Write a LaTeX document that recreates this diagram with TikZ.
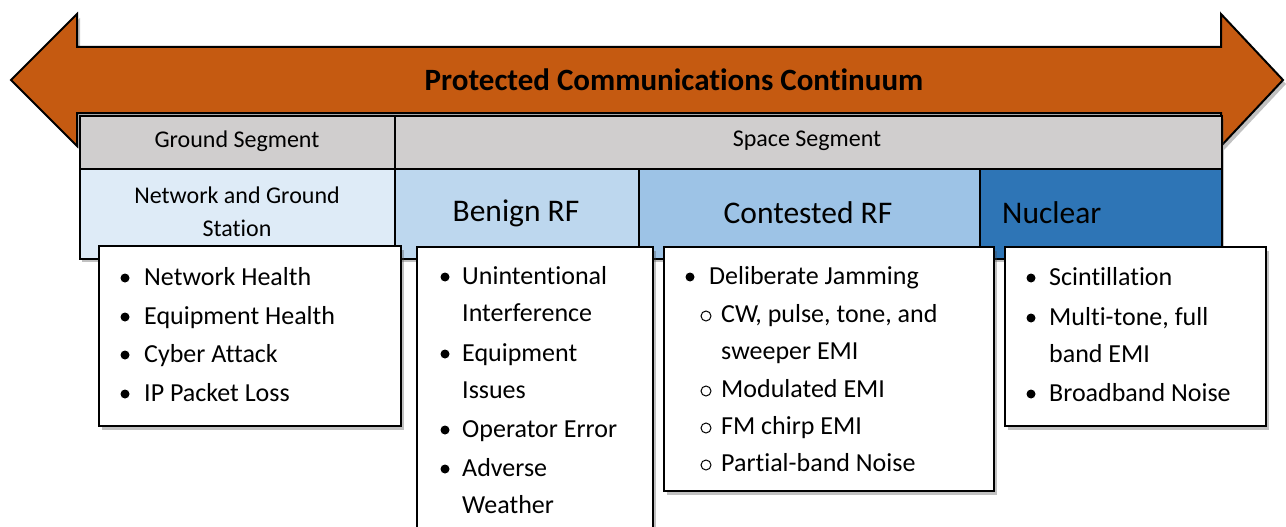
\documentclass[tikz,border=0pt]{standalone}
\usepackage{fontspec}
\setmainfont[Ligatures={NoCommon,NoRare}]{Carlito}
\usetikzlibrary{shadows}
\definecolor{arrowor}{HTML}{C55A11}
\definecolor{seggray}{HTML}{D0CECE}
\definecolor{cellA}{HTML}{DEEBF7}
\definecolor{cellB}{HTML}{BDD7EE}
\definecolor{cellC}{HTML}{9DC3E6}
\definecolor{cellD}{HTML}{2E75B6}
\tikzset{
  shd/.style={drop shadow={shadow xshift=3pt, shadow yshift=-4pt, opacity=0.35, fill=black!70}},
  cell/.style={draw=black, line width=2pt, inner sep=0pt, anchor=north west},
  listbox/.style={draw=black, line width=2pt, fill=white, inner sep=0pt, anchor=north west, shd},
  hdr/.style={font=\fontsize{24}{33}\selectfont, align=center, inner sep=0pt},
  big/.style={font=\fontsize{31.5}{38}\selectfont, inner sep=0pt},
  item/.style={font=\fontsize{26}{38}\selectfont, anchor=base west, inner sep=0pt},
  dot/.style={circle, fill=black, inner sep=0pt, minimum size=9pt},
  ring/.style={circle, draw=black, line width=1pt, inner sep=0pt, minimum size=10pt}
}
\begin{document}
\begin{tikzpicture}[x=1pt, y=-1pt]
\useasboundingbox (0,0) rectangle (1286,527);
\clip (0,0) rectangle (1286,527);
% continuum arrow
\path[fill=arrowor, draw=black, line width=2pt, line join=miter, shd]
  (77,47) -- (1221,47) -- (1221,14) -- (1283,80) -- (1221,146) -- (1221,113)
  -- (77,113) -- (77,146) -- (11,80) -- (77,14) -- cycle;
\node[font=\bfseries\fontsize{31}{38}\selectfont, inner sep=0pt] (title) at (674,80) {Protected Communications Continuum};
% table
\path[shd, fill=white] (79,115) rectangle (1221,258);
\node[cell, fill=seggray, minimum width=315pt, minimum height=53pt] (gseg) at (79,115) {};
\node[cell, fill=seggray, minimum width=827pt, minimum height=53pt] (sseg) at (394,115) {};
\node[cell, fill=cellA, minimum width=315pt, minimum height=90pt] (ngs) at (79,168) {};
\node[cell, fill=cellB, minimum width=244pt, minimum height=90pt] (ben) at (394,168) {};
\node[cell, fill=cellC, minimum width=341pt, minimum height=90pt] (con) at (638,168) {};
\node[cell, fill=cellD, minimum width=242pt, minimum height=90pt] (nuc) at (979,168) {};
\node[hdr] (tg) at (237,141) {Ground Segment};
\node[hdr] (ts) at (807,141) {Space Segment};
\node[hdr] (tn) at (237,212) {Network and Ground\\Station};
\node[big] (tb) at (516,213) {Benign RF};
\node[big] (tc) at (808,213) {Contested RF};
\node[big, anchor=west] (tu) at (1002,213) {Nuclear};
% list boxes
\node[listbox, minimum width=302pt, minimum height=180pt] (b1) at (98,245) {};
\node[listbox, minimum width=236pt, minimum height=320pt] (b2) at (416,246) {};
\node[listbox, minimum width=330pt, minimum height=244pt] (b3) at (663,246) {};
\node[listbox, minimum width=261pt, minimum height=179pt] (b4) at (1004,246) {};
% box 1
\foreach \n/\yy/\t in {a/277/Network Health, b/316/Equipment Health, c/354/Cyber Attack, d/393/IP Packet Loss}{
  \node[dot] (d1\n) at (125,\yy+1) {};
  \node[item] (t1\n) at (144,\yy+8) {\t};
}
% box 2
\foreach \n/\yy in {a/276, c/353, e/429, f/468}{ \node[dot] (d2\n) at (445,\yy+1) {}; }
\foreach \n/\yy/\t in {a/276/Unintentional, b/313/Interference, c/353/Equipment, d/390/Issues, e/429/Operator Error, f/468/Adverse, g/505/Weather}{
  \node[item] (t2\n) at (462,\yy+8) {\t};
}
% box 3
\node[dot] (d3a) at (690,277) {};
\node[item] (t3a) at (709,284) {Deliberate Jamming};
\foreach \n/\yy in {b/314, d/389, e/426, f/463}{ \node[ring] (d3\n) at (706,\yy+2) {}; }
\foreach \n/\yy/\t in {b/314/{CW, pulse, tone, and}, c/351/sweeper EMI, d/389/Modulated EMI, e/426/FM chirp EMI, f/463/Partial-band Noise}{
  \node[item] (t3\n) at (721,\yy+8) {\t};
}
% box 4
\foreach \n/\yy in {a/277, b/317, d/393}{ \node[dot] (d4\n) at (1031,\yy+1) {}; }
\foreach \n/\yy/\t in {a/277/Scintillation, b/317/{Multi-tone, full}, c/354/band EMI, d/393/Broadband Noise}{
  \node[item] (t4\n) at (1049,\yy+8) {\t};
}
\end{tikzpicture}
\end{document}
